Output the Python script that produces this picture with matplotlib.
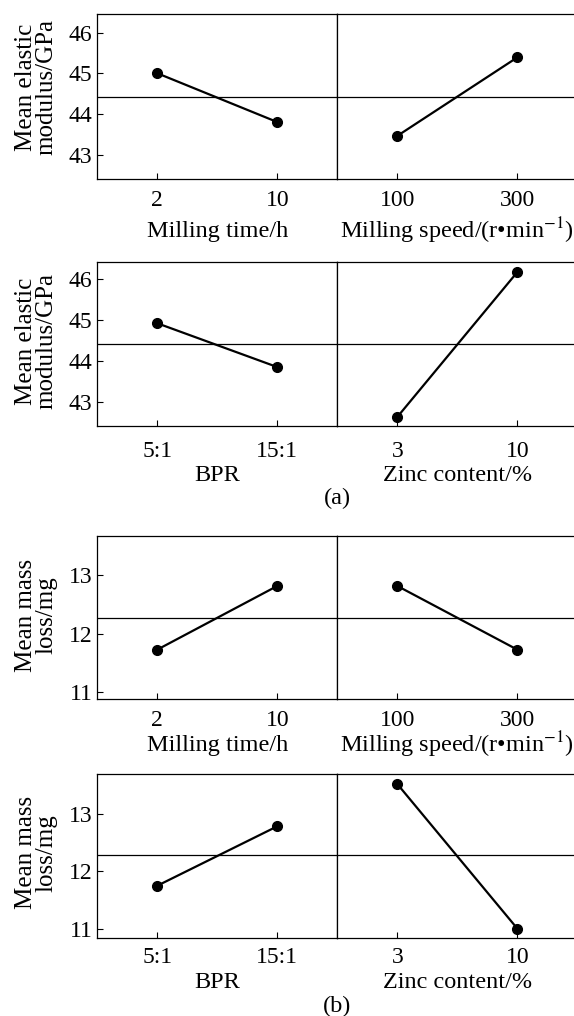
import numpy as np
import matplotlib
matplotlib.use("Agg")
import matplotlib.pyplot as plt

plt.rcParams['font.family'] = ['Liberation Serif', 'DejaVu Serif']
plt.rcParams['mathtext.fontset'] = 'stix'

# (a) mean elastic modulus / GPa
time_labels = ['2', '10']
speed_labels = ['100', '300']
bpr_labels = ['5:1', '15:1']
zinc_labels = ['3', '10']

mod_time = [45.00, 43.80]
mod_speed = [43.46, 45.39]
mod_bpr = [44.92, 43.85]
mod_zinc = [42.63, 46.17]
mod_mean = 44.41

# (b) mean mass loss / mg
loss_time = [11.73, 12.82]
loss_speed = [12.82, 11.73]
loss_bpr = [11.75, 12.79]
loss_zinc = [13.53, 11.00]
loss_mean = 12.28

speed_title = 'Milling speed/(r\u2022min$^{-1}$)'
rows = [
    # left data, right data, left ticks, right ticks, left xlabel, right xlabel, mean, ylim, yticks, ylabel
    (mod_time, mod_speed, time_labels, speed_labels, 'Milling time/h', speed_title,
     mod_mean, (42.4, 46.45), [43, 44, 45, 46], 'Mean elastic\nmodulus/GPa'),
    (mod_bpr, mod_zinc, bpr_labels, zinc_labels, 'BPR', 'Zinc content/%',
     mod_mean, (42.41, 46.41), [43, 44, 45, 46], 'Mean elastic\nmodulus/GPa'),
    (loss_time, loss_speed, time_labels, speed_labels, 'Milling time/h', speed_title,
     loss_mean, (10.88, 13.68), [11, 12, 13], 'Mean mass\nloss/mg'),
    (loss_bpr, loss_zinc, bpr_labels, zinc_labels, 'BPR', 'Zinc content/%',
     loss_mean, (10.84, 13.70), [11, 12, 13], 'Mean mass\nloss/mg'),
]

W, H = 574, 1016
fig = plt.figure(figsize=(W / 100, H / 100), dpi=100)

# layout in pixels
row_px = [(14.3, 179.0), (262.3, 426.0), (535.7, 699.3), (774.3, 937.7)]
xtick_pad = [8.0, 10.8, 7.7, 6.7]
xlabel_y_px = [231, 475, 745, 983]
ylabel_y = [0.556, 0.52, 0.515, 0.52]
left_x0, split_x = 97.3, 337.3
panel_w = split_x - left_x0
right_w = W - split_x

for i, (ldat, rdat, lticks, rticks, lxl, rxl, mean, ylim, yticks, ylab) in enumerate(rows):
    top, bot = row_px[i]
    b = 1 - bot / H
    h = (bot - top) / H
    axl = fig.add_axes([left_x0 / W, b, panel_w / W, h])
    axr = fig.add_axes([split_x / W, b, right_w / W, h])

    xs = np.arange(1, 3)
    for ax, dat, tl in [(axl, ldat, lticks), (axr, rdat, rticks)]:
        ax.axhline(mean, color='black', lw=0.9, zorder=1)
        ax.plot(xs, dat, color='black', lw=1.6, marker='o', ms=7, zorder=3)
        ax.set_xticks(xs)
        ax.set_xticklabels(tl)
        ax.set_ylim(*ylim)
        ax.tick_params(direction='in', length=4, width=0.8, labelsize=17)
        ax.tick_params(axis='x', pad=xtick_pad[i])
        ax.tick_params(axis='y', pad=3.6)
        for s in ax.spines.values():
            s.set_linewidth(0.9)

    axl.set_xlim(0.5, 2.5)
    axr.set_xlim(0.5, 0.5 + 2.0 * right_w / panel_w)
    axr.spines['right'].set_visible(False)

    axl.set_yticks(yticks)
    axr.set_yticks([])

    axl.set_ylabel(ylab, fontsize=18, linespacing=0.9)
    axl.yaxis.set_label_coords(-0.165, ylabel_y[i])

    ly = 1 - xlabel_y_px[i] / H
    fig.text((left_x0 + panel_w / 2) / W, ly, lxl, ha='center', va='center', fontsize=17.5)
    fig.text((split_x + panel_w / 2) / W, ly, rxl, ha='center', va='center', fontsize=17.5)

fig.text(split_x / W, 1 - 498 / H, '(a)', ha='center', va='center', fontsize=17.5)
fig.text(split_x / W, 1 - 1006.7 / H, '(b)', ha='center', va='center', fontsize=17.5)

fig.savefig('out.png', dpi=100)
